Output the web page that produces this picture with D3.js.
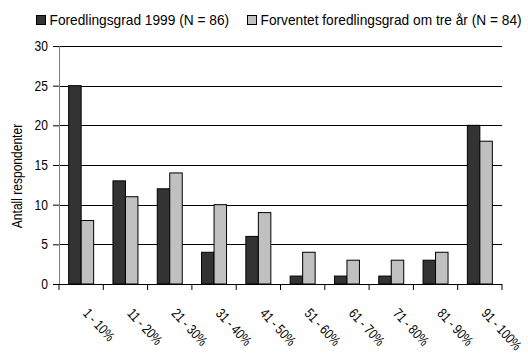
<!DOCTYPE html>
<html>
<head>
<meta charset="utf-8">
<script src="https://cdn.jsdelivr.net/npm/d3@7"></script>
<style>
  body { margin: 0; background: #fff; }
  text { font-family: "Liberation Sans Narrow", "Arial Narrow", "Liberation Sans", Arial, sans-serif; }
</style>
</head>
<body>
<div id="chart"></div>
<script>
const categories = ["1 - 10%", "11 - 20%", "21 - 30%", "31 - 40%", "41 - 50%",
                    "51 - 60%", "61 - 70%", "71 - 80%", "81 - 90%", "91 - 100%"];
const series1999 = [25, 13, 12, 4, 6, 1, 1, 1, 3, 20];
const seriesTreAr = [8, 11, 14, 10, 9, 4, 3, 3, 4, 18];
const seriesNames = ["Foredlingsgrad 1999 (N = 86)", "Forventet foredlingsgrad om tre år (N = 84)"];
const yTicks = [0, 5, 10, 15, 20, 25, 30];

const W = 528, H = 353;
const margin = { top: 46, right: 26, bottom: 69, left: 59 };
const width = W - margin.left - margin.right;
const height = H - margin.top - margin.bottom;

// the original font is condensed; squeeze text horizontally
const narrow = 0.86;

const svg = d3.select("#chart").append("svg")
    .attr("width", W)
    .attr("height", H);

const g = svg.append("g")
    .attr("transform", `translate(${margin.left},${margin.top})`);

// Scales
const x = d3.scaleBand()
    .domain(categories)
    .range([0, width])
    .paddingInner(0)
    .paddingOuter(0);

const barW = x.bandwidth() * 0.282;

const y = d3.scaleLinear()
    .domain([0, 30])
    .range([height, 0]);

// Gridlines
g.selectAll(".grid")
    .data(yTicks.filter(d => d > 0))
    .enter()
    .append("line")
    .attr("x1", 0)
    .attr("x2", width)
    .attr("y1", d => Math.round(y(d)) + 0.5)
    .attr("y2", d => Math.round(y(d)) + 0.5)
    .attr("stroke", "#000")
    .attr("stroke-width", 1);

// Bars
const data = categories.map((c, i) => ({ cat: c, a: series1999[i], b: seriesTreAr[i] }));
const groups = g.selectAll(".grp")
    .data(data)
    .enter()
    .append("g")
    .attr("transform", d => `translate(${x(d.cat) + x.bandwidth() / 2},0)`);

groups.append("rect")
    .attr("x", -barW)
    .attr("y", d => y(d.a))
    .attr("width", barW)
    .attr("height", d => y(0) - y(d.a))
    .attr("fill", "#333333")
    .attr("stroke", "#000")
    .attr("stroke-width", 1);

groups.append("rect")
    .attr("x", 0)
    .attr("y", d => y(d.b))
    .attr("width", barW)
    .attr("height", d => y(0) - y(d.b))
    .attr("fill", "#c0c0c0")
    .attr("stroke", "#000")
    .attr("stroke-width", 1);

// Y axis
const yAxis = g.append("g")
    .call(d3.axisLeft(y).tickValues(yTicks).tickSize(6).tickPadding(5));
yAxis.select(".domain").attr("stroke", "#808080");
yAxis.selectAll(".tick line").attr("stroke", "#000");
yAxis.selectAll("text")
    .attr("font-size", 14)
    .attr("fill", "#000")
    .attr("x", null)
    .attr("transform", `translate(-11,0) scale(${narrow},1)`);

// X axis
const xAxis = g.append("g")
    .attr("transform", `translate(0,${height})`);
xAxis.append("line")
    .attr("x1", 0).attr("x2", width)
    .attr("y1", 0.5).attr("y2", 0.5)
    .attr("stroke", "#000");
xAxis.selectAll(".xt")
    .data(d3.range(categories.length + 1))
    .enter()
    .append("line")
    .attr("x1", i => i * x.step())
    .attr("x2", i => i * x.step())
    .attr("y1", 0)
    .attr("y2", 6)
    .attr("stroke", "#000");
xAxis.selectAll(".xl")
    .data(categories)
    .enter()
    .append("text")
    .attr("transform", d => `translate(${x(d) + x.bandwidth() / 2 + 1},${30}) rotate(47) scale(0.8,1)`)
    .attr("text-anchor", "start")
    .attr("font-size", 14)
    .text(d => d);

// Y label
svg.append("text")
    .attr("transform", `translate(22,${(margin.top + margin.top + height) / 2 + 11}) rotate(-90) scale(${narrow},1)`)
    .attr("text-anchor", "middle")
    .attr("font-size", 14)
    .text("Antall respondenter");

// Legend
const legend = svg.append("g").attr("transform", "translate(36,15)");
const legX = [0, 211];
seriesNames.forEach((name, i) => {
    legend.append("rect")
        .attr("x", legX[i] + 0.5)
        .attr("y", 0.5)
        .attr("width", 9)
        .attr("height", 9)
        .attr("fill", i === 0 ? "#333333" : "#c0c0c0")
        .attr("stroke", "#000");
    legend.append("text")
        .attr("transform", `translate(${legX[i] + 13.5},10) scale(0.98,1)`)
        .attr("font-size", 14)
        .text(name);
});
</script>
</body>
</html>
